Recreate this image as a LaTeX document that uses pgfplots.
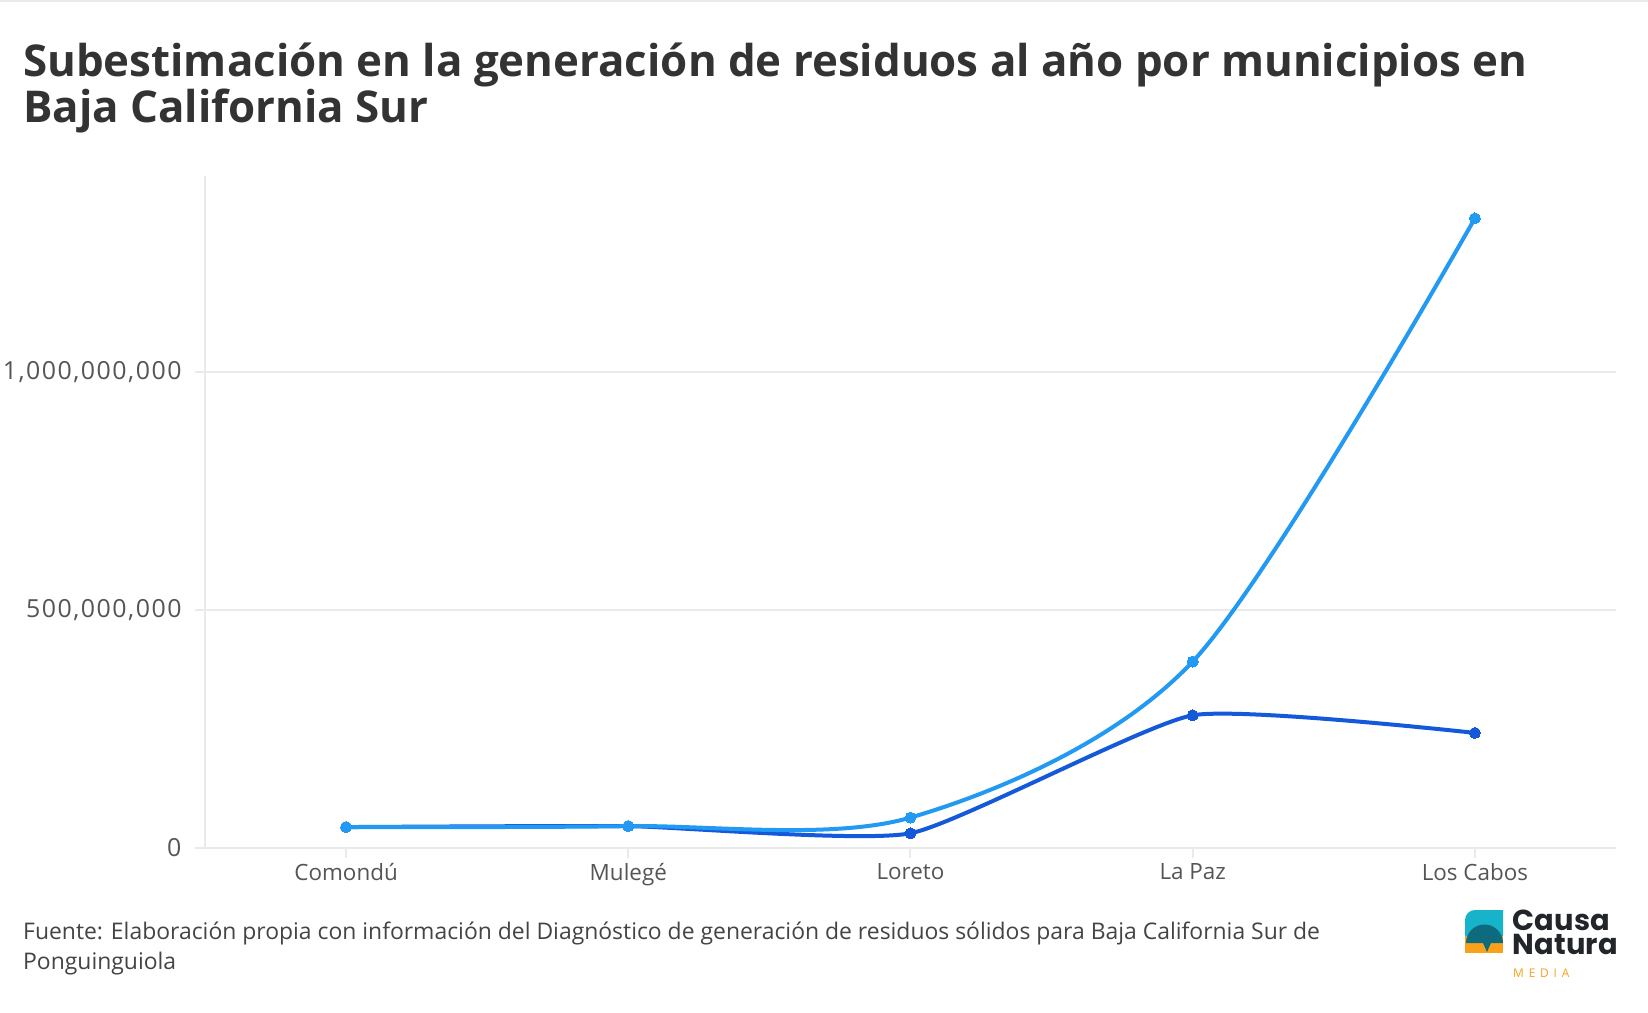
\documentclass[border=0pt]{standalone}
\usepackage{pgfplots}
\pgfplotsset{compat=1.18}
\usepackage{fontspec}
\setmainfont{Open Sans}
\newfontfamily\logofont{Poppins}
\definecolor{lb}{HTML}{2299F2}
\definecolor{db}{HTML}{1559DB}
\definecolor{gridc}{HTML}{EAEAEA}
\definecolor{tickc}{HTML}{555555}
\definecolor{titlec}{HTML}{333333}
\definecolor{footc}{HTML}{444444}
\definecolor{teal}{HTML}{17B3CB}
\definecolor{dteal}{HTML}{0E6B7D}
\definecolor{orng}{HTML}{F9A11B}
\definecolor{logot}{HTML}{22262A}
\begin{document}
\begin{tikzpicture}[x=1bp,y=1bp]
\useasboundingbox (0,0) rectangle (1648,1012);
\fill[white] (0,0) rectangle (1648,1012);
\draw[gridc, line width=1.5bp] (0,1011) -- (1648,1011);
% title
\node[anchor=base west, inner sep=0, text=titlec, font=\fontsize{44}{50}\selectfont\bfseries] at (23,1012-77) {Subestimación en la generación de residuos al año por municipios en};
\node[anchor=base west, inner sep=0, text=titlec, font=\fontsize{44}{50}\selectfont\bfseries] at (23,1012-123) {Baja California Sur};
% footer
\node[anchor=base west, inner sep=0, text=footc, font=\fontsize{23}{26}\selectfont] at (23,1012-939) {Fuente: Elaboración propia con información del Diagnóstico de generación de residuos sólidos para Baja California Sur de};
\node[anchor=base west, inner sep=0, text=footc, font=\fontsize{23}{26}\selectfont] at (23,1012-969) {Ponguinguiola};
\begin{axis}[
  at={(205bp,164bp)}, anchor=south west,
  scale only axis, width=1411bp, height=672bp,
  xmin=-0.5, xmax=4.5, ymin=0, ymax=1.413e9,
  scaled y ticks=false,
  xtick={0,1,2,3,4},
  xticklabels={Comondú,Mulegé,Loreto,La Paz,Los Cabos},
  ytick={0,500000000,1000000000},
  yticklabels={0,{500,000,000},{1,000,000,000}},
  axis x line*=bottom, axis y line*=left,
  axis line style={draw=gridc, line width=2bp, -},
  ymajorgrids, grid style={draw=gridc, line width=2bp},
  tick align=outside, major tick length=10bp,
  tick style={draw=gridc, line width=2bp},
  xticklabel style={text=tickc, font=\fontsize{22.5}{26}\selectfont, yshift=-2bp},
  yticklabel style={text=tickc, font=\fontsize{25}{26}\selectfont\addfontfeature{LetterSpace=6}, xshift=-10bp},
  clip=false,
]
\addplot[db, line width=4bp, smooth, tension=0.3, mark=*, mark size=5.5bp, mark options={fill=db, draw=db, line width=0}] coordinates {(0,44e6) (1,46e6) (2,31e6) (3,279e6) (4,242e6)};
\addplot[lb, line width=4bp, smooth, tension=0.5, mark=*, mark size=5.5bp, mark options={fill=lb, draw=lb, line width=0}] coordinates {(0,44e6) (1,46e6) (2,64e6) (3,392e6) (4,1324e6)};
\end{axis}
% logo
\begin{scope}
\fill[orng] (1465,1012-953) rectangle (1503,1012-936);
\fill[teal] (1465,1012-936) -- (1465,1012-920) arc[start angle=180,end angle=90,radius=10] -- (1503,1012-910) -- (1503,1012-936) -- cycle;
\fill[dteal] (1466,1012-943) arc[start angle=180,end angle=0,radius=18.5] -- (1491,1012-943) -- (1487,1012-952) -- (1483,1012-943) -- cycle;
\end{scope}
\node[anchor=base west, inner sep=0, align=left, text=logot, font=\fontsize{29}{24}\logofont\bfseries\addfontfeature{LetterSpace=1}] at (1512,1012-954) {Causa\\Natura};
\node[anchor=base west, inner sep=0, text=orng, font=\fontsize{12}{12}\selectfont\addfontfeature{LetterSpace=40}] at (1513,1012-977) {MEDIA};
\end{tikzpicture}
\end{document}
